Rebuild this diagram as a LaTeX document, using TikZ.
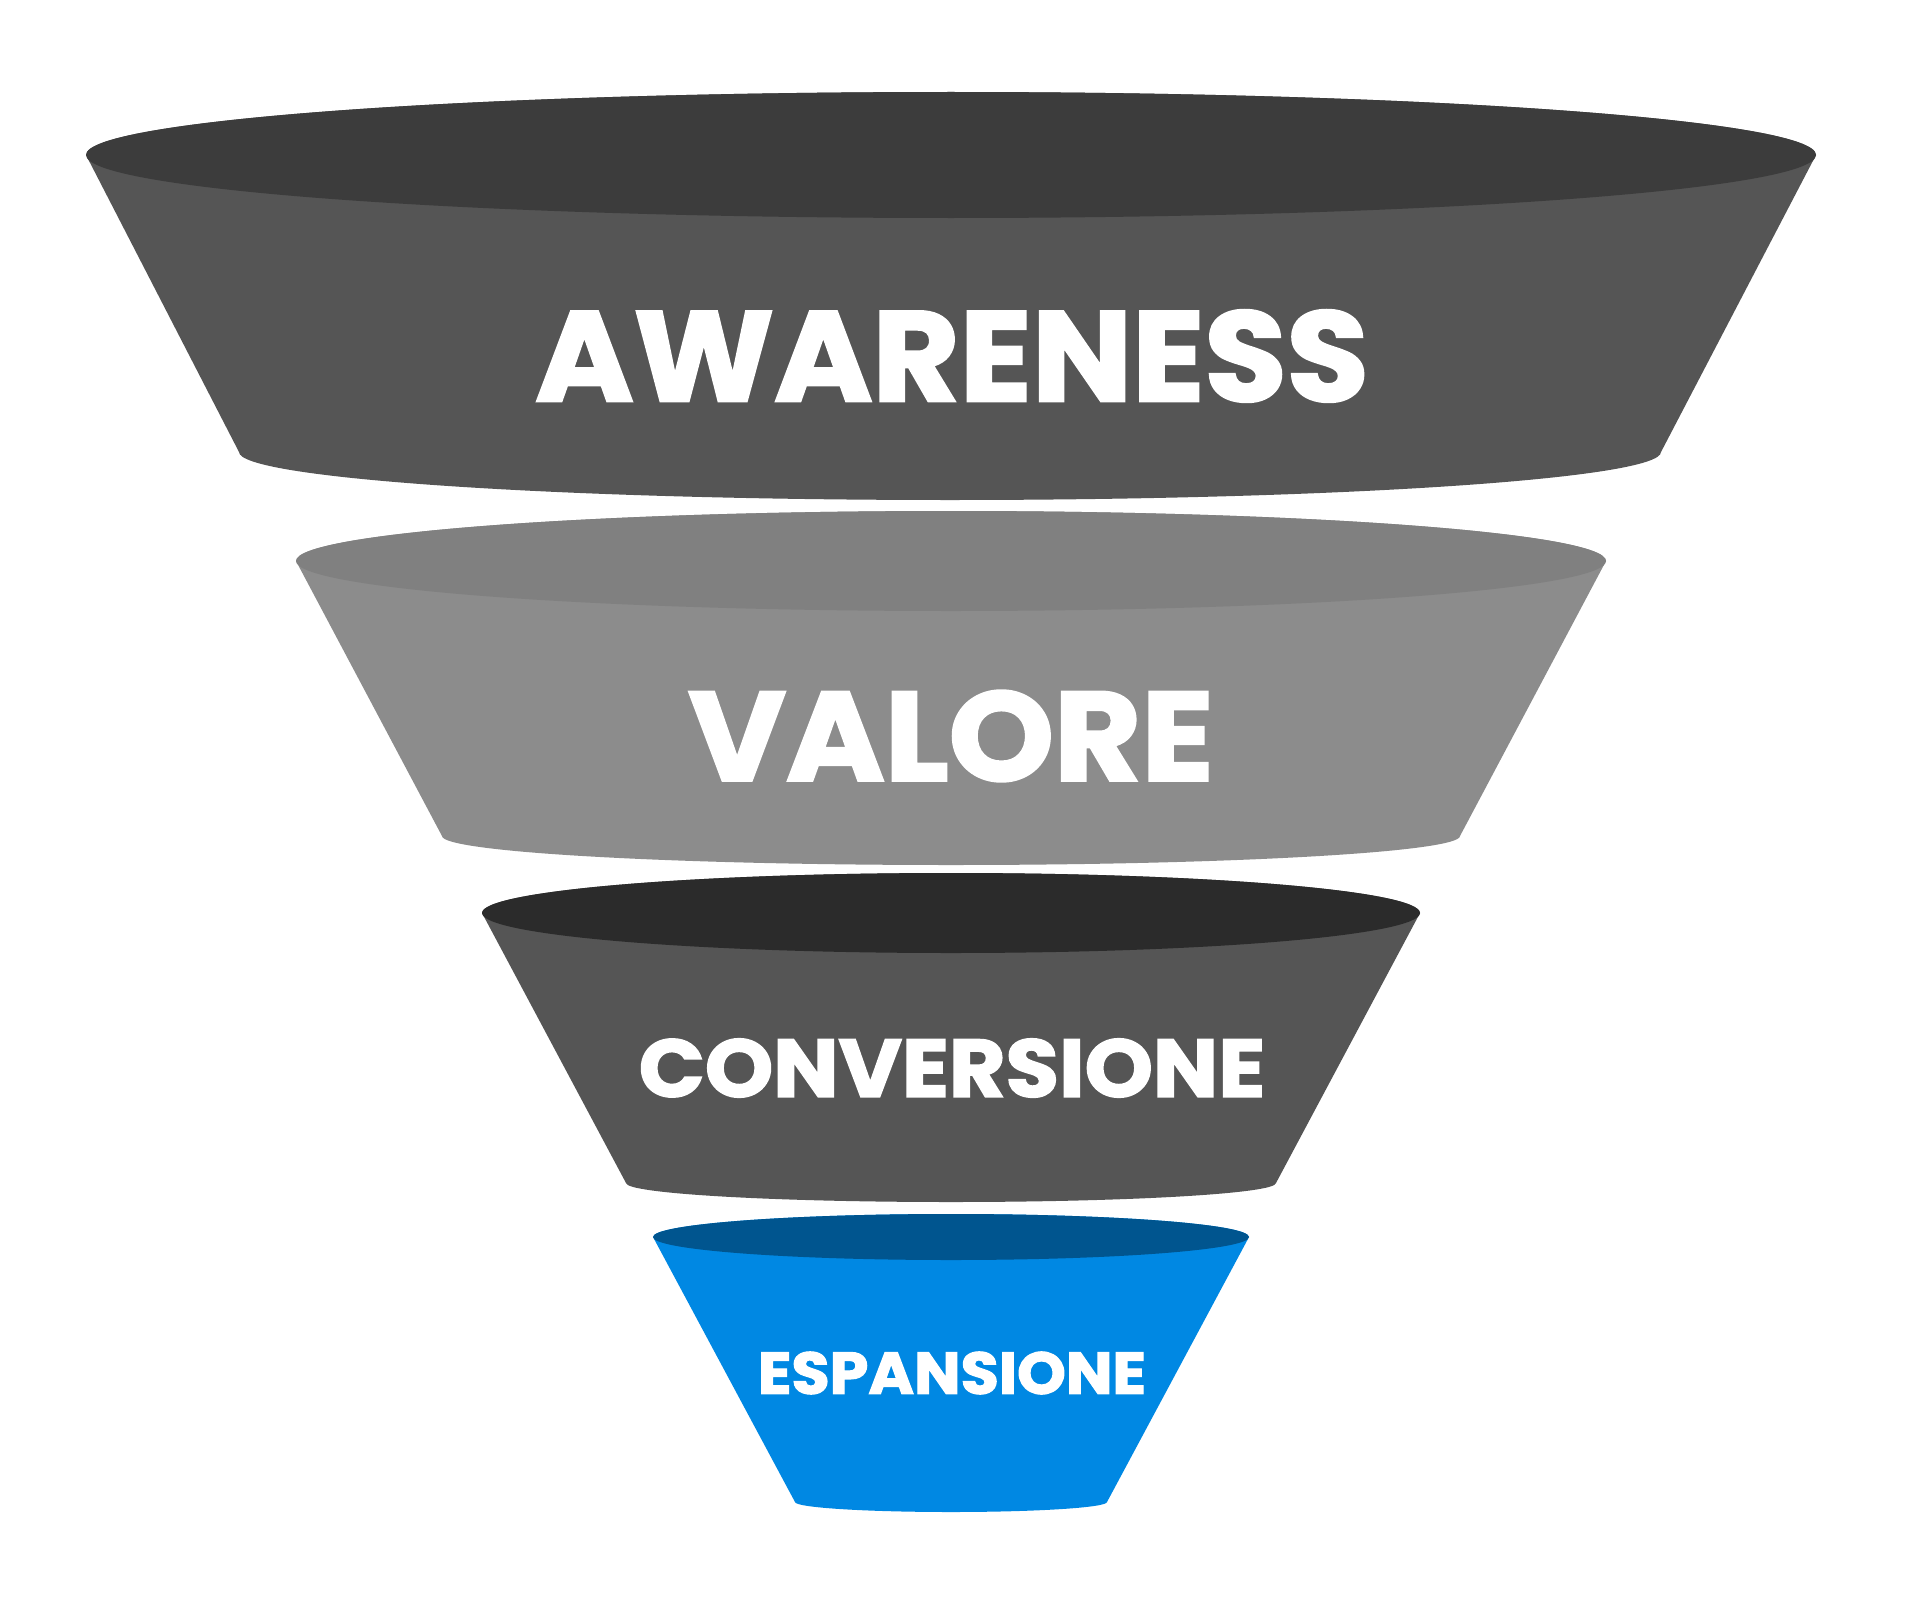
\documentclass[tikz,border=0pt]{standalone}
\usepackage{fontspec}
\usepackage{graphicx}
\newfontfamily\funnelfont{Poppins}[BoldFeatures={FakeBold=2}]
\definecolor{topA}{HTML}{3C3C3C}
\definecolor{bodyA}{HTML}{555555}
\definecolor{topB}{HTML}{808080}
\definecolor{bodyB}{HTML}{8C8C8C}
\definecolor{topC}{HTML}{2B2B2B}
\definecolor{bodyC}{HTML}{555555}
\definecolor{topD}{HTML}{00558F}
\definecolor{bodyD}{HTML}{0088E3}
\tikzset{
  label/.style={inner sep=0pt, text=white, font=\funnelfont\bfseries},
}
\begin{document}
\begin{tikzpicture}[x=1pt,y=1pt]
\useasboundingbox[fill=white] (0,0) rectangle (1922,-1600);
% Segment 1: AWARENESS
\fill[bodyA] (86,-155) -- (239,-452)
  arc[start angle=180,end angle=360,x radius=711,y radius=48]
  -- (1816,-155) arc[start angle=0,end angle=180,x radius=865,y radius=63] -- cycle;
\fill[topA] (951,-155) ellipse[x radius=865,y radius=63];
\node[label] (aw) at (952,-356) {\resizebox{833pt}{91pt}{AWARENESS}};
% Segment 2: VALORE
\fill[bodyB] (296,-561) -- (442,-836)
  arc[start angle=180,end angle=360,x radius=509,y radius=29]
  -- (1606,-561) arc[start angle=0,end angle=180,x radius=655,y radius=50] -- cycle;
\fill[topB] (951,-561) ellipse[x radius=655,y radius=50];
\node[label] (va) at (951,-736) {\resizebox{525pt}{90pt}{VALORE}};
% Segment 3: CONVERSIONE
\fill[bodyC] (482,-913) -- (626,-1183)
  arc[start angle=180,end angle=360,x radius=325,y radius=19]
  -- (1420,-913) arc[start angle=0,end angle=180,x radius=469,y radius=40] -- cycle;
\fill[topC] (951,-913) ellipse[x radius=469,y radius=40];
\node[label] (co) at (952,-1068) {\resizebox{626pt}{58pt}{CONVERSIONE}};
% Segment 4: ESPANSIONE
\fill[bodyD] (653,-1237) -- (795,-1502)
  arc[start angle=180,end angle=360,x radius=156,y radius=10]
  -- (1249,-1237) arc[start angle=0,end angle=180,x radius=298,y radius=23] -- cycle;
\fill[topD] (951,-1237) ellipse[x radius=298,y radius=23];
\node[label] (es) at (952,-1373) {\resizebox{388pt}{42pt}{ESPANSIONE}};
\end{tikzpicture}
\end{document}
